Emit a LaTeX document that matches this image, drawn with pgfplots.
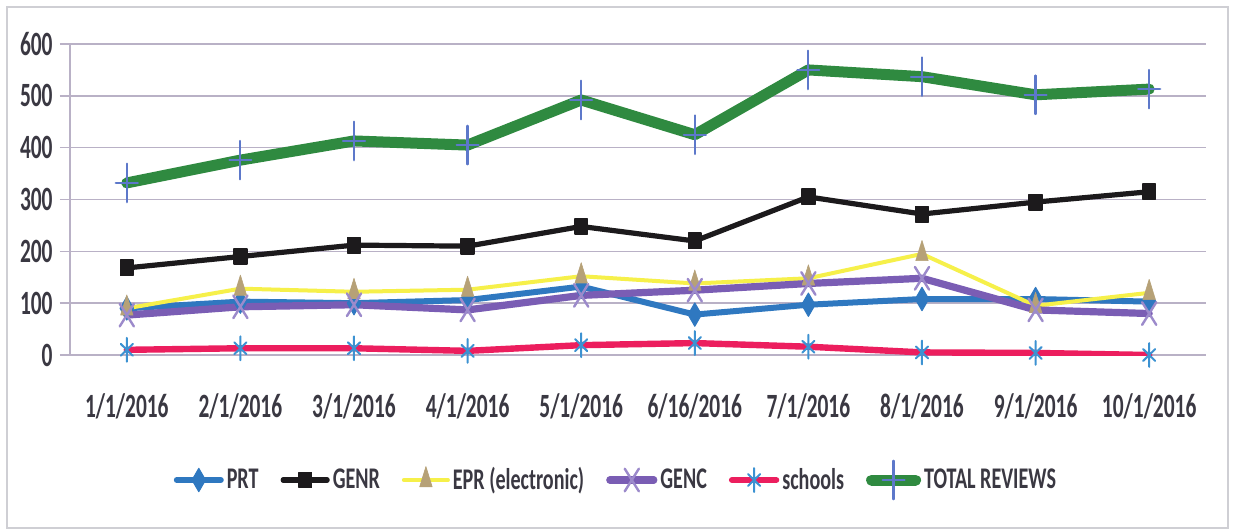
\documentclass[border=0pt]{standalone}
\usepackage{fontspec}
\setmainfont{Carlito}
\newfontfamily\tickfont{Carlito}[FakeStretch=0.63]
\newfontfamily\legfont{Carlito}[FakeStretch=0.67]
\usepackage{pgfplots}
\pgfplotsset{compat=1.18}
\definecolor{gridc}{HTML}{B9B1C6}
\definecolor{txtc}{HTML}{3A3842}
\definecolor{prtc}{HTML}{2F78C0}
\definecolor{genrc}{HTML}{1C1A1C}
\definecolor{eprc}{HTML}{F6F04A}
\definecolor{eprm}{HTML}{B6A177}
\definecolor{gencc}{HTML}{7A5DB4}
\definecolor{gencm}{HTML}{9C8ACB}
\definecolor{schc}{HTML}{EC1E5E}
\definecolor{schm}{HTML}{3C92D2}
\definecolor{totc}{HTML}{2F8A40}
\definecolor{totm}{HTML}{5D78CA}
\definecolor{framec}{HTML}{CFCFD4}
\begin{document}
\begin{tikzpicture}
\useasboundingbox (-35pt,-88pt) rectangle (581.5pt,177.5pt);
\fill[white] (-35pt,-88pt) rectangle (581.5pt,177.5pt);
\draw[framec, line width=1pt] (-31.5pt,-86.5pt) rectangle (579pt,174pt);
\begin{axis}[
  at={(0,0)}, anchor=south west,
  scale only axis, width=568pt, height=155.5pt,
  xmin=-0.5, xmax=9.5, ymin=0, ymax=600,
  ytick={0,100,...,600},
  axis x line*=bottom, axis y line*=left,
  axis line style={draw=gridc, line width=0.8pt},
  ymajorgrids, grid style={draw=gridc, line width=0.8pt},
  /pgf/number format/assume math mode=true,
  tick style={draw=gridc, line width=0.8pt},
  tick align=outside,
  major tick length=5pt,
  xtick={0,...,9},
  xticklabels={1/1/2016,2/1/2016,3/1/2016,4/1/2016,5/1/2016,6/16/2016,7/1/2016,8/1/2016,9/1/2016,10/1/2016},
  xtick style={draw=none},
  extra x ticks={-0.5,0.5,...,9.5},
  extra x tick labels={},
  extra x tick style={tick style={draw=gridc, line width=0.8pt}, major tick length=3.5pt, grid=none},
  ticklabel style={font=\tickfont\bfseries\fontsize{17}{17}\selectfont, text=txtc},
  yticklabel style={inner sep=0pt, xshift=-3.5pt},
  xticklabel style={inner sep=0pt, yshift=-14pt},
  legend columns=6,
  legend style={at={(0.481,-0.402)}, anchor=center, draw=none, fill=none,
    font=\legfont\bfseries\fontsize{15}{15}\selectfont, text=txtc,
    /tikz/every even column/.append style={column sep=9.5pt},
    nodes={inner xsep=1.5pt, inner ysep=1pt}},
  legend image code/.code={\draw[mark repeat=2, mark phase=2] plot coordinates {(0pt,0pt) (11pt,0pt) (22pt,0pt)};},
  every axis plot/.append style={line join=round, line cap=round},
]
\addplot[prtc, line width=3pt, mark=diamond*, mark size=4.5pt, mark options={fill=prtc, draw=prtc, line width=0.5pt, yscale=1.3}]
 coordinates {(0,90) (1,103) (2,100) (3,106) (4,132) (5,78) (6,97) (7,108) (8,108) (9,103)};
\addlegendentry{PRT}
\addplot[genrc, line width=2.6pt, mark=square*, mark size=3.2pt, mark options={fill=genrc, draw=genrc, line width=0.8pt, rounded corners=1pt, yscale=1.2}]
 coordinates {(0,168) (1,190) (2,212) (3,210) (4,248) (5,220) (6,305) (7,272) (8,295) (9,315)};
\addlegendentry{GENR}
\addplot[eprc, line width=2pt, mark=triangle*, mark size=4.5pt, mark options={fill=eprm, draw=eprm, line width=0.3pt, yscale=1.5, xscale=0.8}]
 coordinates {(0,90) (1,128) (2,122) (3,126) (4,152) (5,138) (6,148) (7,195) (8,95) (9,120)};
\addlegendentry{EPR (electronic)}
\addplot[gencc, line width=3.6pt, mark=x, mark size=5pt, mark options={draw=gencm, line width=1.2pt, yscale=1.6}]
 coordinates {(0,77) (1,93) (2,97) (3,87) (4,115) (5,125) (6,138) (7,148) (8,87) (9,80)};
\addlegendentry{GENC}
\addplot[schc, line width=3.2pt, mark=asterisk, mark size=3.5pt, mark options={draw=schm, line width=1pt, yscale=1.7}]
 coordinates {(0,10) (1,13) (2,13) (3,8) (4,19) (5,23) (6,16) (7,5) (8,4) (9,0)};
\addlegendentry{schools}
\addplot[totc, line width=5.5pt, mark=+, mark size=5.5pt, mark options={draw=totm, line width=1.1pt, yscale=1.75}]
 coordinates {(0,332) (1,376) (2,413) (3,405) (4,492) (5,425) (6,550) (7,537) (8,502) (9,513)};
\addlegendentry{TOTAL REVIEWS}
\end{axis}
\end{tikzpicture}
\end{document}
